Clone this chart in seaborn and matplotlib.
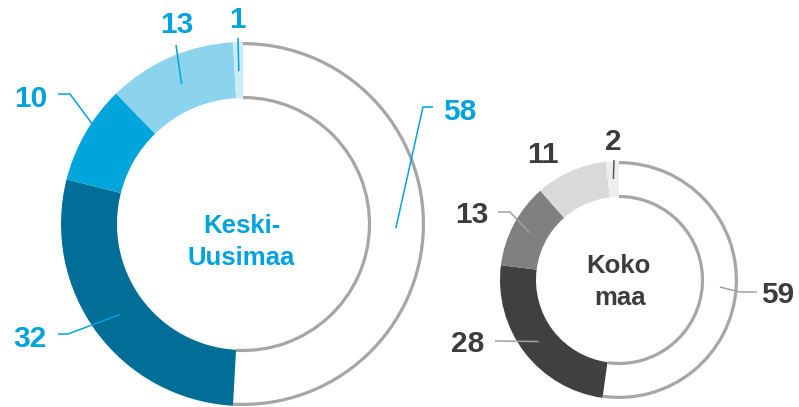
import matplotlib.pyplot as plt
import seaborn as sns
import numpy as np
from matplotlib.patches import Arc

# Keski-Uusimaa (osuudet, %)
ku_values = [58, 32, 10, 13, 1]
ku_colors = ["#ffffff", "#006e96", "#00a5db", "#8cd4ee", "#c8ecfb"]
ku_title = ["Keski-", "Uusimaa"]

# Koko maa (osuudet, %)
km_values = [59, 28, 13, 11, 2]
km_colors = ["#ffffff", "#404040", "#808080", "#d9d9d9", "#eeeeee"]
km_title = ["Koko", "maa"]

W, H = 799, 407

sns.set_theme(style="white")
plt.rcParams["font.family"] = ["Liberation Sans", "DejaVu Sans"]

fig = plt.figure(figsize=(W / 100, H / 100), dpi=100)
ax = fig.add_axes([0, 0, 1, 1])


def donut(values, colors, center, r_out, r_in, text_color, line_color, labels_pos, title_pos, title):
    cx, cy = center[0], H - center[1]
    wedges, _ = ax.pie(values, colors=colors, startangle=90, counterclock=False,
                       radius=r_out, center=(cx, cy),
                       wedgeprops=dict(width=r_out - r_in, linewidth=0))
    # harmaa reunaviiva suurimmalle (valkoiselle) sektorille
    w = wedges[0]
    for rr in (r_out - 1.6, r_in + 0.5):
        ax.add_patch(Arc((cx, cy), 2 * rr, 2 * rr, theta1=w.theta1, theta2=w.theta2,
                         color="#a6a6a6", lw=2.3))
    # arvot ja viittausviivat
    for val, wd, lp in zip(values, wedges, labels_pos):
        tx, ty = lp["xy"]
        ax.text(tx, H - ty, str(val), ha="center", va="baseline",
                fontsize=21.5, fontweight="bold", color=text_color)
        if lp.get("path") is None:
            continue
        ang = np.deg2rad(wd.theta2 - lp.get("frac", 0.5) * (wd.theta2 - wd.theta1))
        rr = lp.get("r", 0.84) * r_out
        pts = [(x, H - y) for x, y in lp["path"]] + [(cx + rr * np.cos(ang), cy + rr * np.sin(ang))]
        xs, ys = zip(*pts)
        ax.plot(xs, ys, color=lp.get("lc", line_color), lw=1.1, solid_capstyle="butt")
    for (tx, ty), line in zip(title_pos, title):
        ax.text(tx, H - ty, line, ha="center", va="baseline",
                fontsize=18.5, fontweight="bold", color=text_color)


ku_layout = [
    dict(xy=(460, 120), path=[(433, 107), (423, 107)]),
    dict(xy=(30, 347), path=[(58, 334), (68, 334)]),
    dict(xy=(31, 107), path=[(58, 94), (70, 94)], frac=0.61, r=0.99),
    dict(xy=(177, 33), path=[(176, 45)]),
    dict(xy=(237, 28), path=[(238, 38)]),
]
km_layout = [
    dict(xy=(778, 303), path=[(757, 292), (740, 292)], r=0.85),
    dict(xy=(468, 352), path=[(495, 341)], r=0.85),
    dict(xy=(472, 223), path=[(498, 212), (510, 212)], r=0.85),
    dict(xy=(543, 163), path=None),
    dict(xy=(613, 150), path=[(614, 160)], r=0.85, lc="#595959"),
]

donut(ku_values, ku_colors, (243, 224), 182, 126, "#00a3dc", "#00a3dc",
      ku_layout, [(242, 233), (241, 265)], ku_title)
donut(km_values, km_colors, (619, 280), 119, 83, "#3c3c3c", "#a0a0a0",
      km_layout, [(618, 273), (620, 305)], km_title)

ax.set_xlim(0, W)
ax.set_ylim(0, H)
ax.set_aspect("equal")
ax.axis("off")

fig.savefig("out.png", dpi=100)
